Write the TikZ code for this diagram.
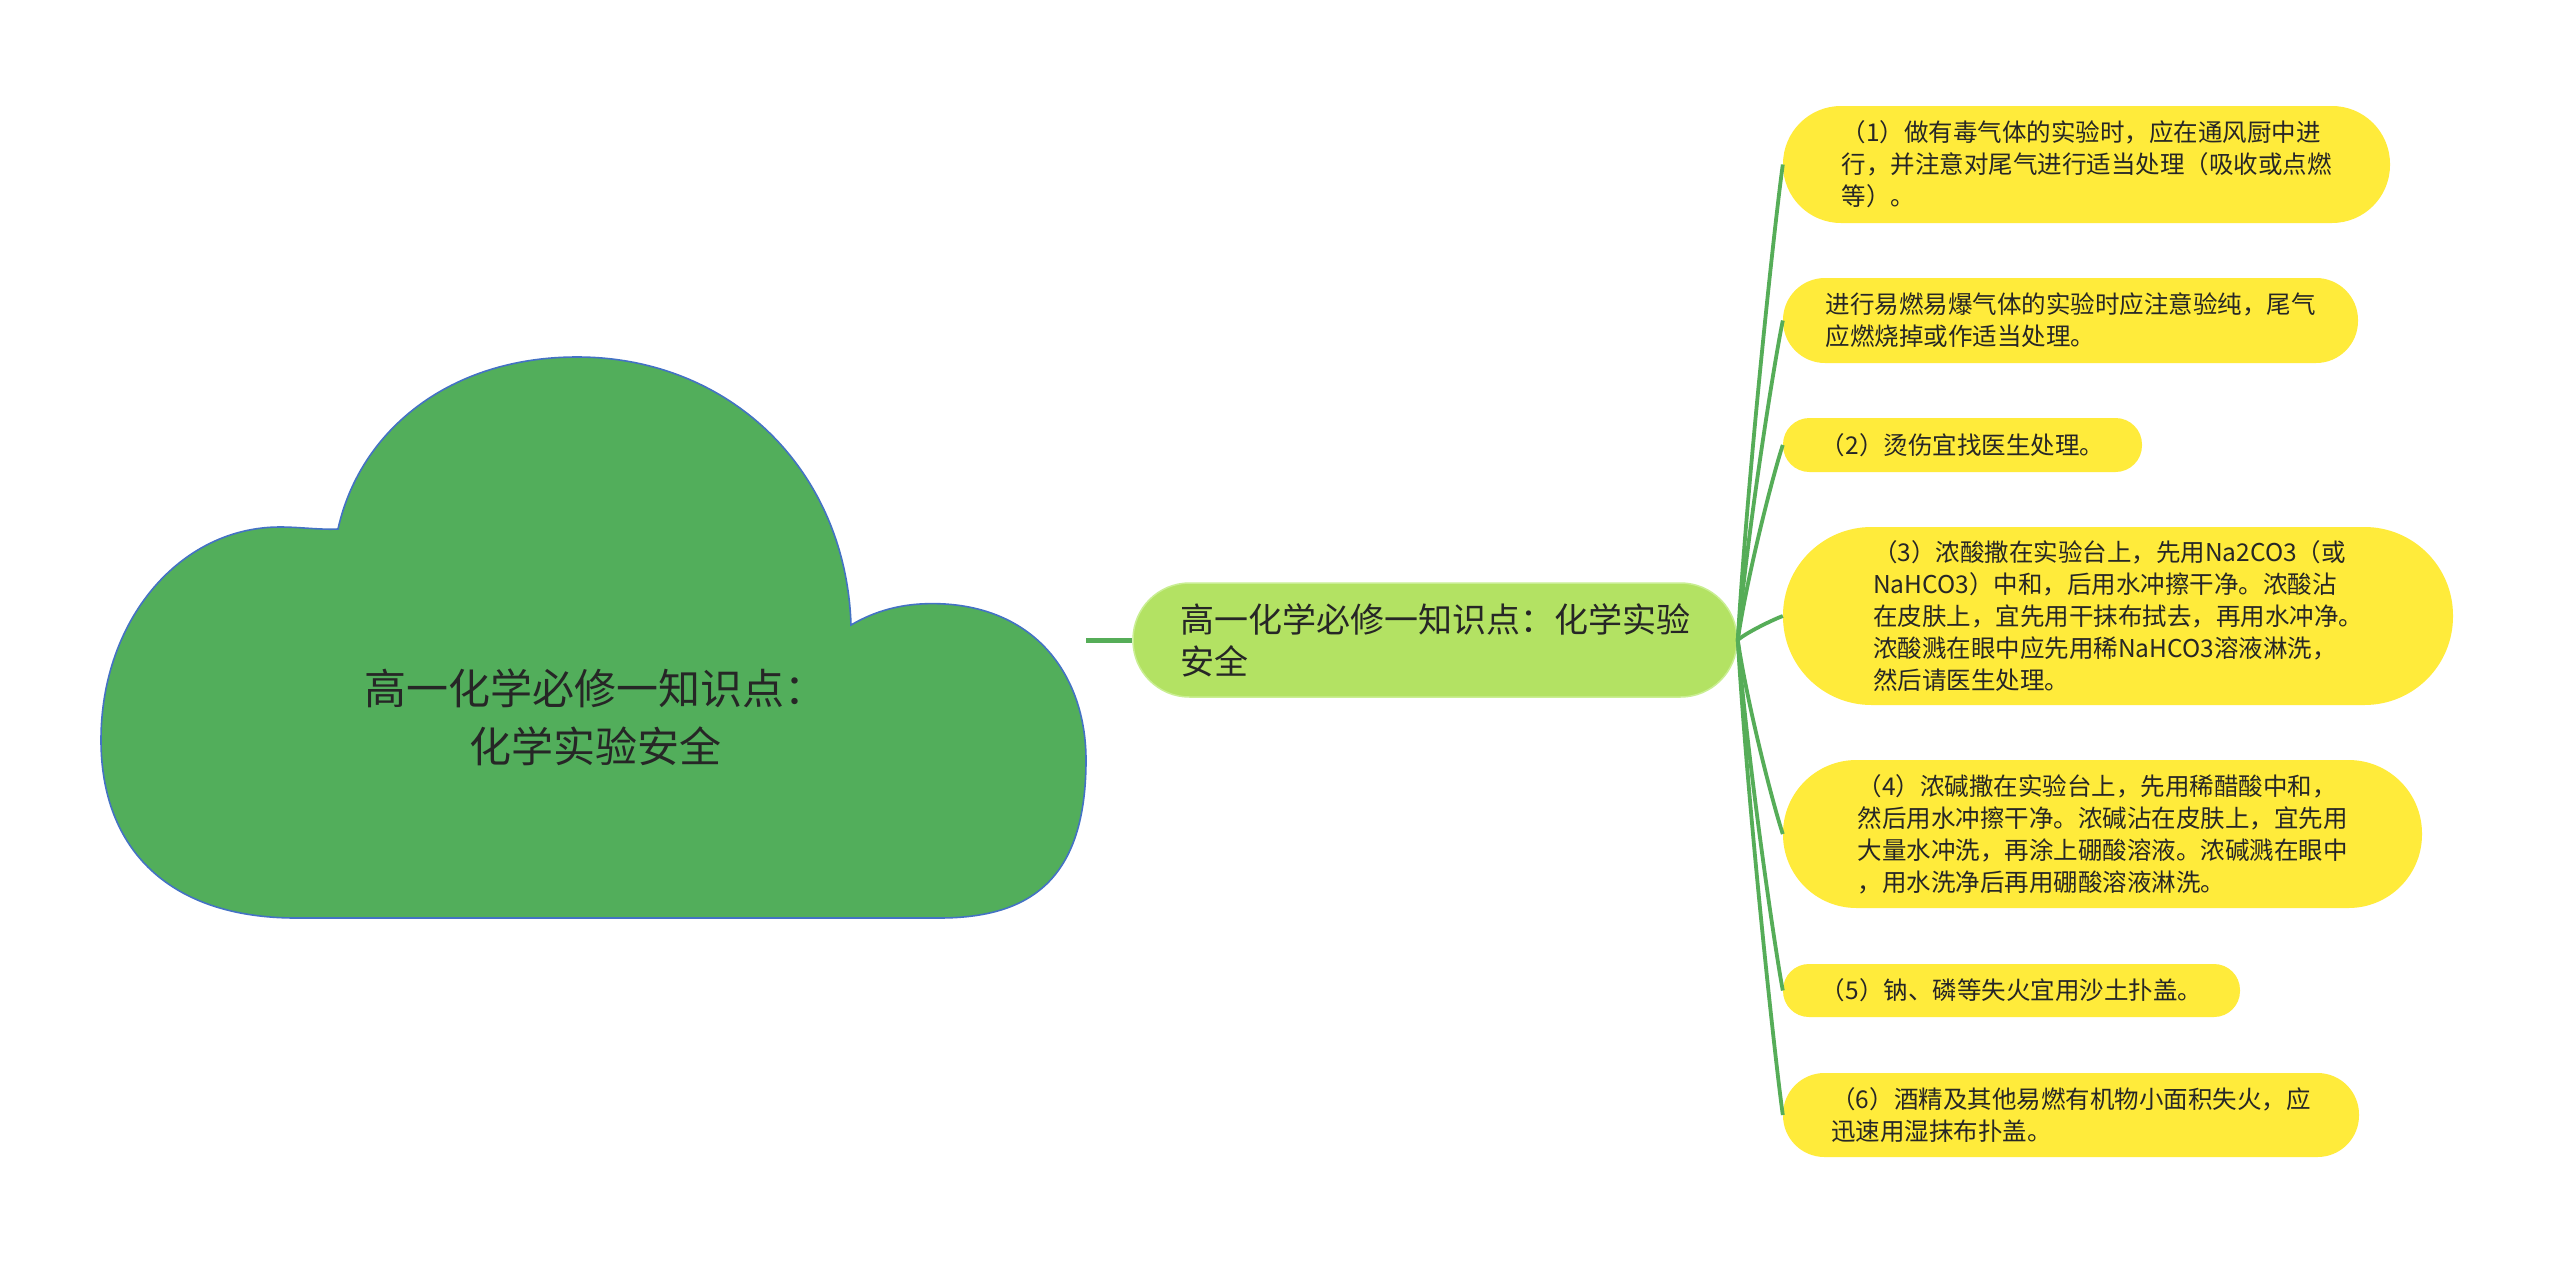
\documentclass[tikz,border=0pt]{standalone}
\usepackage{fontspec}
\setmainfont{Noto Sans CJK SC}
\usetikzlibrary{calc}
\definecolor{cloudgreen}{HTML}{52AE5B}
\definecolor{cloudline}{HTML}{4472C4}
\definecolor{midgreen}{HTML}{B3E263}
\definecolor{midline}{HTML}{C9EE92}
\definecolor{leafyellow}{HTML}{FFEB3B}
\definecolor{linkgreen}{HTML}{56AD58}
\definecolor{txt}{HTML}{262626}
\tikzset{
  leafbox/.style={fill=leafyellow, inner sep=0pt, align=left, text=txt,
    font=\fontsize{24.5}{32}\selectfont},
  midbox/.style={fill=midgreen, draw=midline, line width=1.5pt, inner sep=0pt,
    align=left, text=txt, font=\fontsize{34}{42}\selectfont},
  cloudtext/.style={align=center, text=txt, font=\fontsize{42}{58}\selectfont},
  branchline/.style={draw=linkgreen, line width=3.8pt},
  mainline/.style={draw=linkgreen, line width=5pt}
}
\begin{document}
\begin{tikzpicture}[x=1pt,y=-1pt]
\useasboundingbox (0,0) rectangle (2560,1264);
\fill[white] (0,0) rectangle (2560,1264);

% cloud
\draw[fill=cloudgreen, draw=cloudline, line width=1.6pt]
  (338,529) .. controls (360,430) and (450,357) .. (577,357)
  .. controls (730,357) and (846,470) .. (851,625)
  .. controls (880,608) and (910,602) .. (945,604)
  .. controls (1040,610) and (1086,680) .. (1086,760)
  .. controls (1086,880) and (1030,918) .. (939,918)
  -- (296,918)
  .. controls (170,918) and (101,850) .. (101,740)
  .. controls (101,620) and (180,527) .. (280,527)
  .. controls (300,527) and (320,530) .. (338,529) -- cycle;
\node[cloudtext] (root) at (595,717) {高一化学必修一知识点：\\化学实验安全};
\coordinate (cloudR) at (1086,640);

% middle node
\node[midbox, minimum width=604pt, minimum height=114pt, rounded corners=56.5pt]
  (mid) at (1435,640) {高一化学必修一知识点：化学实验\\安全};

% leaves
\node[leafbox, minimum width=607pt, minimum height=117pt, rounded corners=58pt]
  (L1) at (2086.5,164.5) {（1）做有毒气体的实验时，应在通风厨中进\\行，并注意对尾气进行适当处理（吸收或点燃\\等）。};
\node[leafbox, minimum width=575pt, minimum height=85pt, rounded corners=42pt]
  (L2) at (2070.5,320.5) {进行易燃易爆气体的实验时应注意验纯，尾气\\应燃烧掉或作适当处理。};
\node[leafbox, minimum width=359pt, minimum height=54pt, rounded corners=26.5pt]
  (L3) at (1962.5,445) {（2）烫伤宜找医生处理。};
\node[leafbox, minimum width=670pt, minimum height=178pt, rounded corners=88.5pt]
  (L4) at (2118,616) {（3）浓酸撒在实验台上，先用Na2CO3（或\\NaHCO3）中和，后用水冲擦干净。浓酸沾\\在皮肤上，宜先用干抹布拭去，再用水冲净。\\浓酸溅在眼中应先用稀NaHCO3溶液淋洗，\\然后请医生处理。};
\node[leafbox, minimum width=639pt, minimum height=148pt, rounded corners=73.5pt]
  (L5) at (2102.5,834) {（4）浓碱撒在实验台上，先用稀醋酸中和，\\然后用水冲擦干净。浓碱沾在皮肤上，宜先用\\大量水冲洗，再涂上硼酸溶液。浓碱溅在眼中\\，用水洗净后再用硼酸溶液淋洗。};
\node[leafbox, minimum width=457pt, minimum height=53pt, rounded corners=26pt]
  (L6) at (2011.5,990.5) {（5）钠、磷等失火宜用沙土扑盖。};
\node[leafbox, minimum width=576pt, minimum height=84pt, rounded corners=41.5pt]
  (L7) at (2071,1115) {（6）酒精及其他易燃有机物小面积失火，应\\迅速用湿抹布扑盖。};

% connectors
\draw[mainline] (cloudR) -- (mid.west);
\draw[branchline] (mid.east) .. controls ($(mid.east)+(10,-166.4)$) and ($(L1.west)+(-8,57.1)$) .. (L1.west);
\draw[branchline] (mid.east) .. controls ($(mid.east)+(10,-111.8)$) and ($(L2.west)+(-8,38.3)$) .. (L2.west);
\draw[branchline] (mid.east) .. controls ($(mid.east)+(10,-68.3)$) and ($(L3.west)+(-8,23.4)$) .. (L3.west);
\draw[branchline] (mid.east) .. controls ($(mid.east)+(10,-8.4)$) and ($(L4.west)+(-8,2.9)$) .. (L4.west);
\draw[branchline] (mid.east) .. controls ($(mid.east)+(10,67.9)$) and ($(L5.west)+(-8,-23.3)$) .. (L5.west);
\draw[branchline] (mid.east) .. controls ($(mid.east)+(10,122.7)$) and ($(L6.west)+(-8,-42.1)$) .. (L6.west);
\draw[branchline] (mid.east) .. controls ($(mid.east)+(10,166.3)$) and ($(L7.west)+(-8,-57)$) .. (L7.west);
\end{tikzpicture}
\end{document}
